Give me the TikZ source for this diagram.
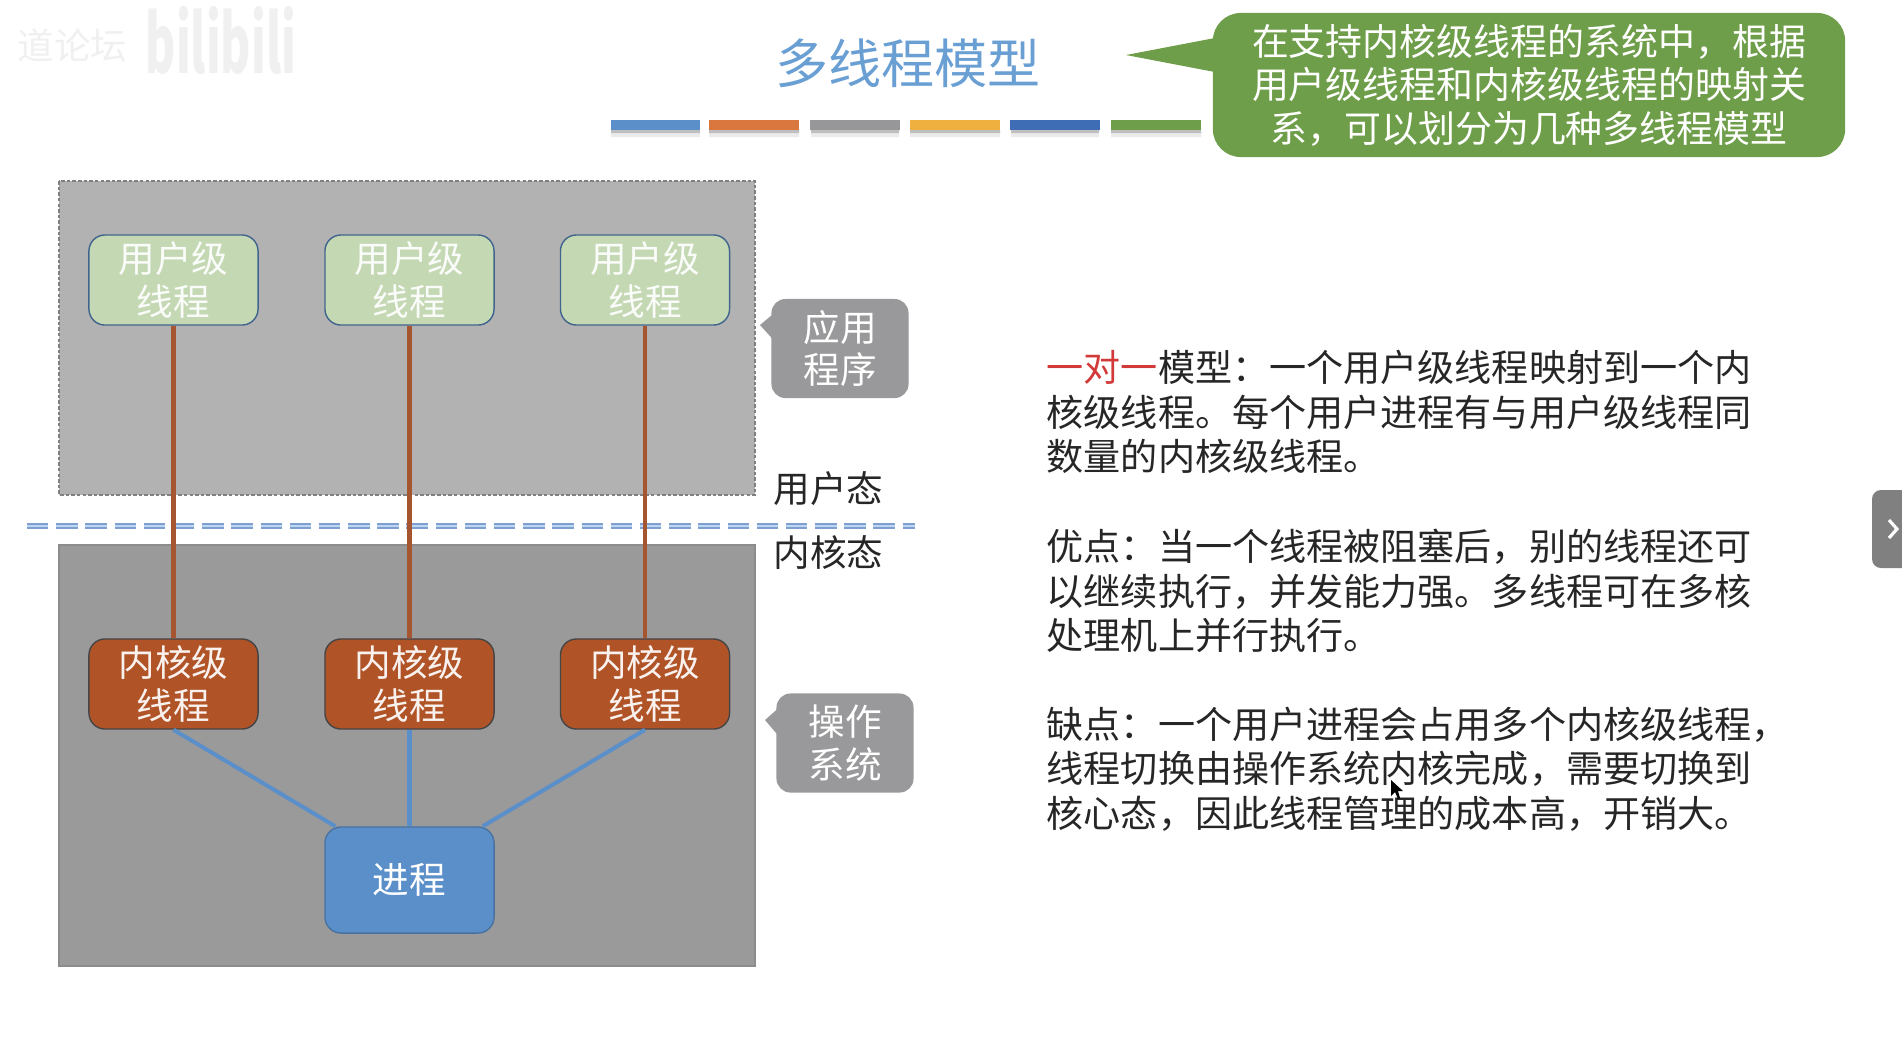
\documentclass[tikz,border=0pt]{standalone}
\usepackage{fontspec}
\setmainfont{Noto Sans CJK SC}
\usetikzlibrary{arrows.meta,calc}
\definecolor{titleblue}{HTML}{6A9FD3}
\definecolor{procblue}{HTML}{5B8FC9}
\definecolor{barorange}{HTML}{D9773F}
\definecolor{bargray}{HTML}{979799}
\definecolor{baryellow}{HTML}{F0B040}
\definecolor{bardeep}{HTML}{3F6DB5}
\definecolor{noteGreen}{HTML}{6F9E4A}
\definecolor{usergreen}{HTML}{C5D8B4}
\definecolor{kernred}{HTML}{B05327}
\definecolor{linkred}{HTML}{A5552F}
\definecolor{usergray}{HTML}{B2B2B2}
\definecolor{kerngray}{HTML}{9B9A9B}
\definecolor{tipgray}{HTML}{99989A}
\definecolor{sepblue}{HTML}{7F9FD0}
\definecolor{sepfill}{HTML}{BBD7F2}
\definecolor{onered}{HTML}{D23A3A}
\begin{document}
\begin{tikzpicture}[x=0.01cm,y=-0.01cm,
  every node/.style={font=\fontsize{10.4}{12.2}\selectfont,inner sep=0pt,align=center},
  lowtext/.style={execute at begin node={\rule{0pt}{13pt}}},
  threadbox/.style={rounded corners=0.16cm,minimum width=1.69cm,minimum height=0.90cm,line width=0.4pt},
  userbox/.style={threadbox,lowtext,fill=usergreen,draw=black!30!procblue,text=white!92!usergreen},
  kernbox/.style={threadbox,lowtext,fill=kernred,draw=black!55!kerngray,text=white!92!kernred},
  procbox/.style={threadbox,minimum height=1.06cm,fill=procblue,draw=black!20!procblue,text=white},
  tipbox/.style={lowtext,rounded corners=0.14cm,fill=tipgray,text=white,minimum width=1.37cm,minimum height=0.99cm},
  userlink/.style={linkred,line width=1.15pt},
  proclink/.style={procblue,line width=1.15pt},
  bar/.style={minimum width=0.89cm,minimum height=0.10cm},
  bodytext/.style={anchor=west,align=left,font=\fontsize{10.55}{12.65}\selectfont,text=black!85}]
  \useasboundingbox (0,0) rectangle (1902,1038);
  \node[anchor=west,text=black!6] (mark) at (17,45) {道论坛};
  \node[anchor=west,text=black!6,font=\fontsize{23}{25}\selectfont\bfseries] (site) at (145,40) {\scalebox{0.57}[1]{bilibili}};

  \node[text=titleblue,font=\fontsize{15.1}{18}\selectfont] (title) at (908,63) {多线程模型};
  \fill[black!8] (611,130) rectangle (700,137) (709,130) rectangle (799,137) (811,130) rectangle (899,137)
    (910,130) rectangle (1000,137) (1011,130) rectangle (1099,137) (1111,130) rectangle (1201,137);
  \fill[black!25] (611,130) rectangle (700,133) (709,130) rectangle (799,133) (811,130) rectangle (899,133)
    (910,130) rectangle (1000,133) (1011,130) rectangle (1099,133) (1111,130) rectangle (1201,133);
  \node[bar,fill=procblue] (bar1) at (655.5,125) {};
  \node[bar,fill=barorange] (bar2) at (754,125) {};
  \node[bar,fill=bargray] (bar3) at (855,125) {};
  \node[bar,fill=baryellow] (bar4) at (955,125) {};
  \node[bar,fill=bardeep] (bar5) at (1055,125) {};
  \node[bar,fill=noteGreen] (bar6) at (1156,125) {};

  \coordinate (notetip) at (1126,55);
  \fill[noteGreen] (notetip) -- (1220,37) -- (1220,73) -- cycle;
  \node[lowtext,rounded corners=0.28cm,fill=noteGreen,text=white,minimum width=6.32cm,minimum height=1.44cm,
    font=\fontsize{10.5}{12.4}\selectfont] (note) at (1529,85) {在支持内核级线程的系统中，根据\\用户级线程和内核级线程的映射关\\系，可以划分为几种多线程模型};

  \fill[usergray] (59,181) rectangle (755,495);
  \draw[black!50,line width=0.35pt,dash pattern=on 1pt off 0.6pt] (59,181) rectangle (755,495);
  \fill[kerngray] (59,545) rectangle (755,966);
  \draw[black!45,line width=0.4pt] (59,545) rectangle (755,966);

  \node[userbox] (user1) at (173.5,280) {用户级\\线程};
  \node[userbox] (user2) at (409.5,280) {用户级\\线程};
  \node[userbox] (user3) at (645,280) {用户级\\线程};
  \node[kernbox] (kern1) at (173.5,684) {内核级\\线程};
  \node[kernbox] (kern2) at (409.5,684) {内核级\\线程};
  \node[kernbox] (kern3) at (645,684) {内核级\\线程};
  \node[procbox] (proc) at (409.5,880) {进程};

  \coordinate (sepL) at (27,526);
  \coordinate (sepR) at (915,526);
  \draw[sepblue,line width=0.7pt,double=sepfill,double distance=0.5pt,dash pattern=on 6.1pt off 2.2pt] (sepL) -- (sepR);

  \draw[userlink] (user1) -- (kern1);
  \draw[userlink] (user2) -- (kern2);
  \draw[userlink] (user3) -- (kern3);
  \draw[proclink] (kern1.south) -- ([xshift=0.11cm]proc.north west);
  \draw[proclink] (kern2.south) -- (proc.north);
  \draw[proclink] (kern3.south) -- ([xshift=-0.12cm]proc.north east);

  \coordinate (apptip) at (760,325);
  \fill[tipgray] (apptip) -- (778,310) -- (778,345) -- cycle;
  \node[tipbox] (app) at (840,348.5) {应用\\程序};
  \coordinate (ostip) at (765,720);
  \fill[tipgray] (ostip) -- (782,705) -- (782,740) -- cycle;
  \node[tipbox] (os) at (845,743) {操作\\系统};
  \node[anchor=west,text=black!85] (usermode) at (773,489) {用户态};
  \node[anchor=west,text=black!85] (kernmode) at (773,553) {内核态};

  \node[bodytext] (model) at (1046,412) {\textcolor{onered}{一对一}模型：一个用户级线程映射到一个内\\核级线程。每个用户进程有与用户级线程同\\数量的内核级线程。};
  \node[bodytext] (good) at (1046,591) {优点：当一个线程被阻塞后，别的线程还可\\以继续执行，并发能力强。多线程可在多核\\处理机上并行执行。};
  \node[bodytext] (bad) at (1046,769) {缺点：一个用户进程会占用多个内核级线程，\\线程切换由操作系统内核完成，需要切换到\\核心态，因此线程管理的成本高，开销大。};

  \fill[black!50,rounded corners=0.09cm] (1915,490) -- (1872,490) -- (1872,568) -- (1915,568) -- cycle;
  \draw[white,line width=0.9pt] (1889,520) -- (1897,529) -- (1889,538);
  \fill[black] (1391,780) -- (1391,796) -- (1395,792) -- (1398,799) -- (1400,798) -- (1398,791) -- (1403,791) -- cycle;
\end{tikzpicture}
\end{document}
